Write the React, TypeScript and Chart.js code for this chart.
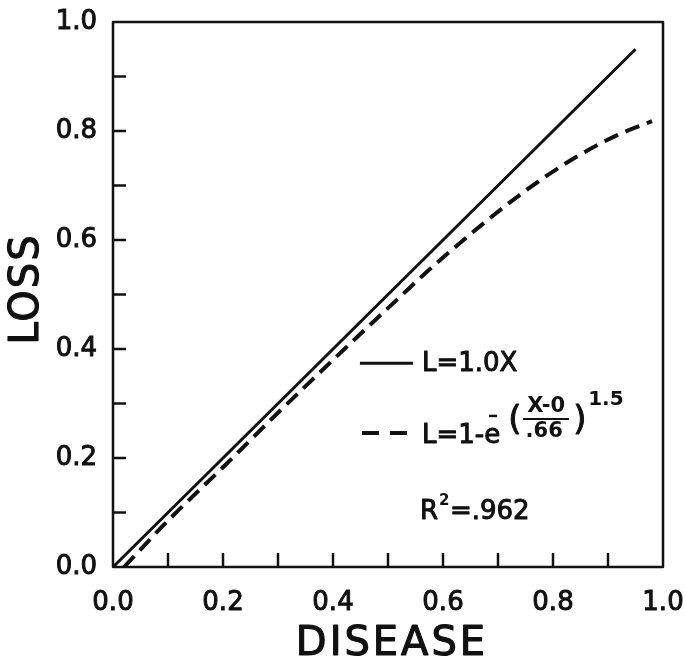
import React, { useEffect, useRef } from "react";
import { Chart, registerables } from "chart.js";

Chart.register(...registerables);

// ---- data ----
const tickValues = [0, 0.1, 0.2, 0.3, 0.4, 0.5, 0.6, 0.7, 0.8, 0.9, 1.0];
const xTickLabels = ["0.0", "", "0.2", "", "0.4", "", "0.6", "", "0.8", "", "1.0"];
const yTickLabels = ["0.0", "", "0.2", "", "0.4", "", "0.6", "", "0.8", "", "1.0"];

const linearX = [0, 0.95];
const linearY = [0, 0.95];

const weibullX = [0.02, 0.1, 0.2, 0.3, 0.4, 0.5, 0.58, 0.667, 0.74, 0.83, 0.916, 0.98];
const weibullY = [0, 0.085, 0.183, 0.283, 0.38, 0.475, 0.55, 0.625, 0.683, 0.745, 0.792, 0.818];

const xTitle = "DISEASE";
const yTitle = "LOSS";
const legendLinear = "L=1.0X";
const legendWeibullHead = "L=1-e";
const fracTop = "X-0";
const fracBottom = ".66";
const exponent = "1.5";
const rSquared = ".962";

const FONT = "'DejaVu Sans', sans-serif";

function boldText(ctx: CanvasRenderingContext2D, s: string, x: number, y: number, w = 1) {
  ctx.lineWidth = w;
  ctx.strokeText(s, x, y);
  ctx.fillText(s, x, y);
}

const decorPlugin = {
  id: "decor",
  afterDraw(chart: any) {
    const ctx = chart.ctx as CanvasRenderingContext2D;
    const xs = chart.scales.x;
    const ys = chart.scales.y;
    const { left, right, top, bottom } = chart.chartArea;
    ctx.save();
    ctx.strokeStyle = "#111";
    ctx.fillStyle = "#111";
    ctx.lineJoin = "round";
    // frame
    ctx.lineWidth = 2.5;
    ctx.beginPath();
    ctx.rect(left, top, right - left, bottom - top);
    ctx.stroke();
    // inward ticks
    ctx.lineWidth = 2.5;
    tickValues.forEach((v) => {
      if (v > 0 && v < 1) {
        const px = xs.getPixelForValue(v);
        ctx.beginPath();
        ctx.moveTo(px, bottom);
        ctx.lineTo(px, bottom - 14);
        ctx.stroke();
        const py = ys.getPixelForValue(v);
        ctx.beginPath();
        ctx.moveTo(left, py);
        ctx.lineTo(left + 13, py);
        ctx.stroke();
      }
    });

    // axis titles
    (ctx as any).letterSpacing = "3px";
    ctx.font = `40px ${FONT}`;
    ctx.textAlign = "center";
    ctx.textBaseline = "middle";
    boldText(ctx, xTitle, (left + right) / 2 + 4, 645, 1.2);
    (ctx as any).letterSpacing = "2px";
    ctx.save();
    ctx.translate(28, 289);
    ctx.rotate(-Math.PI / 2);
    boldText(ctx, yTitle, 0, 0, 1.2);
    ctx.restore();
    (ctx as any).letterSpacing = "0px";

    // legend (anchored at data coordinates)
    const ax = xs.getPixelForValue(0.449);
    const ay1 = ys.getPixelForValue(0.374);
    ctx.lineWidth = 3;
    ctx.beginPath();
    ctx.moveTo(ax, ay1);
    ctx.lineTo(ax + 53, ay1);
    ctx.stroke();
    ctx.font = `26px ${FONT}`;
    ctx.textAlign = "left";
    ctx.textBaseline = "middle";
    boldText(ctx, legendLinear, ax + 62, ay1 + 1);

    const ay2 = ys.getPixelForValue(0.246);
    ctx.lineWidth = 4;
    ctx.beginPath();
    ctx.moveTo(ax + 2, ay2);
    ctx.lineTo(ax + 19, ay2);
    ctx.moveTo(ax + 30, ay2);
    ctx.lineTo(ax + 47, ay2);
    ctx.stroke();
    ctx.font = `26px ${FONT}`;
    ctx.textBaseline = "alphabetic";
    const tx = ax + 62;
    boldText(ctx, legendWeibullHead, tx, ay2 + 10);
    const headW = ctx.measureText(legendWeibullHead).width;
    // minus over e
    const eW = ctx.measureText("e").width;
    ctx.lineWidth = 2.5;
    ctx.beginPath();
    ctx.moveTo(tx + headW - eW / 2 - 3, ay2 - 17);
    ctx.lineTo(tx + headW - eW / 2 + 5, ay2 - 17);
    ctx.stroke();
    // parentheses
    const px0 = tx + headW + 8;
    ctx.font = `34px ${FONT}`;
    ctx.textBaseline = "middle";
    boldText(ctx, "(", px0, ay2 - 12);
    const fx = px0 + 38;
    ctx.font = `bold 21px ${FONT}`;
    ctx.textAlign = "center";
    ctx.fillText(fracTop, fx, ay2 - 26);
    ctx.fillText(fracBottom, fx - 2, ay2 - 1);
    ctx.lineWidth = 2;
    ctx.beginPath();
    ctx.moveTo(fx - 23, ay2 - 14);
    ctx.lineTo(fx + 23, ay2 - 14);
    ctx.stroke();
    ctx.font = `34px ${FONT}`;
    ctx.textAlign = "left";
    boldText(ctx, ")", fx + 27, ay2 - 12);
    ctx.font = `bold 20px ${FONT}`;
    ctx.fillText(exponent, fx + 42, ay2 - 33);

    // R^2
    const rx = xs.getPixelForValue(0.558);
    const ry = ys.getPixelForValue(0.101);
    ctx.font = `26px ${FONT}`;
    ctx.textBaseline = "middle";
    boldText(ctx, "R", rx, ry);
    const rW = ctx.measureText("R").width;
    ctx.font = `bold 15px ${FONT}`;
    ctx.fillText("2", rx + rW + 1, ry - 11);
    ctx.font = `26px ${FONT}`;
    boldText(ctx, "=" + rSquared, rx + rW + 12, ry);
    ctx.restore();
  },
};

export default function App() {
  const ref = useRef<HTMLCanvasElement | null>(null);
  useEffect(() => {
    if (!ref.current) return;
    const chart = new Chart(ref.current, {
      type: "line",
      data: {
        datasets: [
          {
            label: legendLinear,
            data: linearX.map((x, i) => ({ x, y: linearY[i] })),
            borderColor: "#111",
            borderWidth: 3,
            pointRadius: 0,
            fill: false,
          },
          {
            label: "L=1-e^-((X-0)/.66)^1.5",
            data: weibullX.map((x, i) => ({ x, y: weibullY[i] })),
            borderColor: "#111",
            borderWidth: 4,
            borderDash: [15, 8],
            borderCapStyle: "butt",
            pointRadius: 0,
            cubicInterpolationMode: "monotone",
            fill: false,
          },
        ],
      },
      options: {
        animation: false,
        responsive: false,
        layout: { padding: { top: 22, right: 22, left: 0, bottom: 0 } },
        plugins: { legend: { display: false }, tooltip: { enabled: false } },
        scales: {
          x: {
            type: "linear",
            min: 0,
            max: 1,
            grid: { display: false },
            border: { display: false },
            afterBuildTicks: (s: any) => {
              s.ticks = tickValues.map((v) => ({ value: v }));
            },
            afterFit: (s: any) => {
              s.height = 95;
              s.paddingLeft = 0;
              s.paddingRight = 0;
            },
            ticks: {
              autoSkip: false,
              maxRotation: 0,
              padding: 13,
              color: "#111",
              textStrokeColor: "#111",
              textStrokeWidth: 1,
              font: { family: FONT, size: 26 },
              callback: (_v: any, i: number) => xTickLabels[i],
            },
          },
          y: {
            type: "linear",
            min: 0,
            max: 1,
            grid: { display: false },
            border: { display: false },
            afterBuildTicks: (s: any) => {
              s.ticks = tickValues.map((v) => ({ value: v }));
            },
            afterFit: (s: any) => {
              s.width = 113;
              s.paddingTop = 0;
              s.paddingBottom = 0;
            },
            ticks: {
              autoSkip: false,
              padding: 8,
              color: "#111",
              textStrokeColor: "#111",
              textStrokeWidth: 1,
              font: { family: FONT, size: 26 },
              callback: (_v: any, i: number) => yTickLabels[i],
            },
          },
        },
      },
      plugins: [decorPlugin],
    });
    return () => chart.destroy();
  }, []);
  return (
    <div style={{ position: "fixed", left: 0, top: 0, width: 685, height: 662, background: "#fff" }}>
      <canvas ref={ref} width={685} height={662} style={{ width: 685, height: 662 }} />
    </div>
  );
}
